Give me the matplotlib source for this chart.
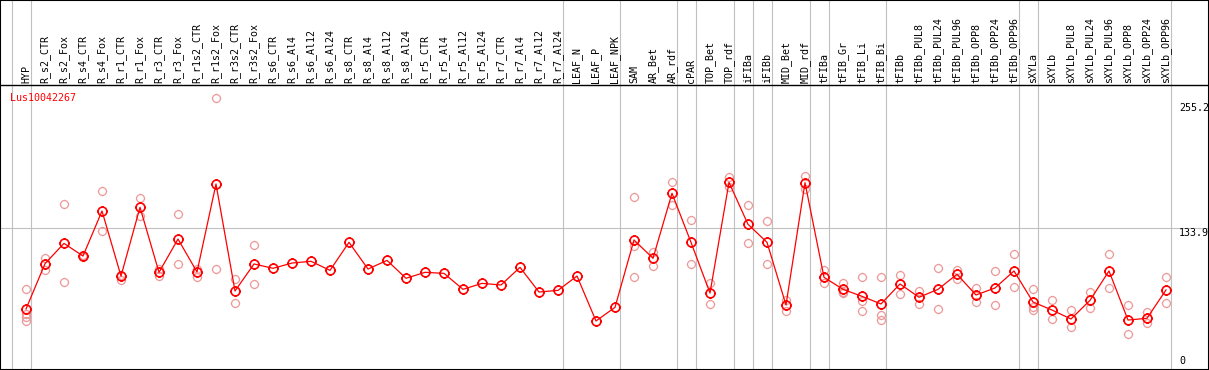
import matplotlib.pyplot as plt
import numpy as np
from matplotlib.path import Path

# expression profile of one gene across tissues / treatments

samples = ['HYP', 'R_s2_CTR', 'R_s2_Fox', 'R_s4_CTR', 'R_s4_Fox', 'R_r1_CTR', 'R_r1_Fox',
           'R_r3_CTR', 'R_r3_Fox', 'R_r1s2_CTR', 'R_r1s2_Fox', 'R_r3s2_CTR', 'R_r3s2_Fox',
           'R_s6_CTR', 'R_s6_Al4', 'R_s6_Al12', 'R_s6_Al24', 'R_s8_CTR', 'R_s8_Al4',
           'R_s8_Al12', 'R_s8_Al24', 'R_r5_CTR', 'R_r5_Al4', 'R_r5_Al12', 'R_r5_Al24',
           'R_r7_CTR', 'R_r7_Al4', 'R_r7_Al12', 'R_r7_Al24', 'LEAF_N', 'LEAF_P', 'LEAF_NPK',
           'SAM', 'AR_Bet', 'AR_rdf', 'cPAR', 'TOP_Bet', 'TOP_rdf', 'iFIBa', 'iFIBb',
           'MID_Bet', 'MID_rdf', 'tFIBa', 'tFIB_Gr', 'tFIB_Li', 'tFIB_Bi', 'tFIBb',
           'tFIBb_PUL8', 'tFIBb_PUL24', 'tFIBb_PUL96', 'tFIBb_OPP8', 'tFIBb_OPP24',
           'tFIBb_OPP96', 'sXYLa', 'sXYLb', 'sXYLb_PUL8', 'sXYLb_PUL24', 'sXYLb_PUL96',
           'sXYLb_OPP8', 'sXYLb_OPP24', 'sXYLb_OPP96']

means = [55.3, 99.3, 119.0, 106.7, 150.4, 87.3, 154.0, 90.9, 123.2, 91.2, 176.6, 72.8, 99.0,
         94.8, 99.9, 101.6, 92.8, 120.0, 94.1, 102.5, 85.1, 90.9, 89.9, 74.4, 80.2,
         78.6, 95.7, 71.8, 73.4, 87.3, 43.7, 56.9,
         122.3, 104.5, 167.6, 120.0, 70.8, 178.2, 137.5, 120.0, 59.2, 177.9,
         86.1, 74.4, 67.6, 60.2, 79.6, 66.7, 74.4, 89.0, 68.9, 75.7, 92.2,
         62.1, 54.3, 45.6, 63.7, 92.2, 44.6, 46.3, 73.8]

replicates = [[74.4, 50.0, 47.5, 43.5], [104.5, 93.2], [156.9, 81.2], [107.5, 106.0],
              [169.8, 130.7], [88.5, 83.5], [163.0, 145.6], [94.1, 87.6], [147.2, 98.7],
              [94.1, 86.7], [259.8, 93.8], [84.4, 60.8], [117.4, 79.6],
              [], [], [], [], [], [], [], [], [], [], [], [], [], [], [], [], [], [], [],
              [163.7, 116.4, 86.1], [110.3, 97.4], [178.2, 156.2], [141.4, 99.0],
              [80.9, 59.8], [183.1, 174.0], [155.9, 119.0], [140.7, 99.0], [64.0, 53.7],
              [184.4, 171.8], [93.2, 80.9], [80.2, 72.0, 70.5], [86.1, 63.4, 53.1],
              [86.1, 49.5, 44.6], [88.0, 69.9], [72.8, 60.2], [95.1, 55.3], [93.5, 84.7],
              [75.4, 62.1], [91.9, 59.2], [108.7, 76.7], [74.4, 56.9, 54.3], [64.0, 45.6],
              [54.3, 37.5], [72.1, 56.0], [108.7, 75.4], [59.2, 30.7], [52.7, 41.4],
              [86.1, 60.8]]

group_ends = [-1, 0, 28, 31, 34, 35, 37, 38, 39, 41, 42, 45, 52, 53, 60]
gene = 'Lus10042267'
ytick_vals = [255.2, 133.9, 0]

# pixel layout helpers (figure is 1209 x 370 at dpi 100)
W, H = 1209, 370
def px2x(px):
    return (px - 26) / 19.0
def py2y(py):
    return (366 - py) / 1.0305

# circle with small ticks, like the original plotting tool
circ = Path.unit_circle()
ticks = []
for a, b in [((0, 1), (0, 1.2)), ((0, -1), (0, -1.2)), ((1, 0), (1.2, 0)), ((-1, 0), (-1.2, 0))]:
    ticks.append(Path([a, b], [Path.MOVETO, Path.LINETO]))
marker = Path.make_compound_path(circ, *ticks)

fig = plt.figure(figsize=(W / 100, H / 100), dpi=100)
ax = fig.add_axes([0, 0, 1, 1])
ax.set_xlim(px2x(0), px2x(W))
ax.set_ylim(py2y(H), py2y(0))
ax.set_xticks([])
ax.set_yticks([])
for s in ax.spines.values():
    s.set_color('black')
    s.set_linewidth(1.5)

grey = '#c0c0c0'
for g in group_ends:
    ax.axvline(g + 0.25, color=grey, lw=0.8, zorder=1)
ax.axhline(133.9, color=grey, lw=0.8, zorder=1)
ax.axhline(py2y(85), color='black', lw=1.0, zorder=2)

x = np.arange(len(samples))
for i, reps in enumerate(replicates):
    if reps:
        ax.plot([i] * len(reps), reps, linestyle='none', marker=marker, markersize=6.8,
                markerfacecolor='none', markeredgecolor='#ec9a9a', markeredgewidth=0.9, zorder=3)
ax.plot(x, means, color='red', lw=0.9, zorder=4)
ax.plot(x, means, linestyle='none', marker=marker, markersize=7.6,
        markerfacecolor='none', markeredgecolor='red', markeredgewidth=1.2, zorder=5)

mono = 'DejaVu Sans Mono'
for i, name in enumerate(samples):
    ax.text(i, py2y(83), name, rotation=90, ha='center', va='bottom',
            family=mono, fontsize=7.2, color='black')

ax.text(px2x(10), py2y(101), gene, ha='left', va='baseline', family=mono,
        fontsize=7.2, color='red')

for v in ytick_vals:
    if v == 0:
        ax.text(px2x(1179), v, '0', ha='left', va='bottom', family=mono, fontsize=7.2)
    else:
        ax.text(px2x(1179), v, str(v), ha='left', va='top', family=mono, fontsize=7.2)

fig.savefig('out.png', dpi=100)
